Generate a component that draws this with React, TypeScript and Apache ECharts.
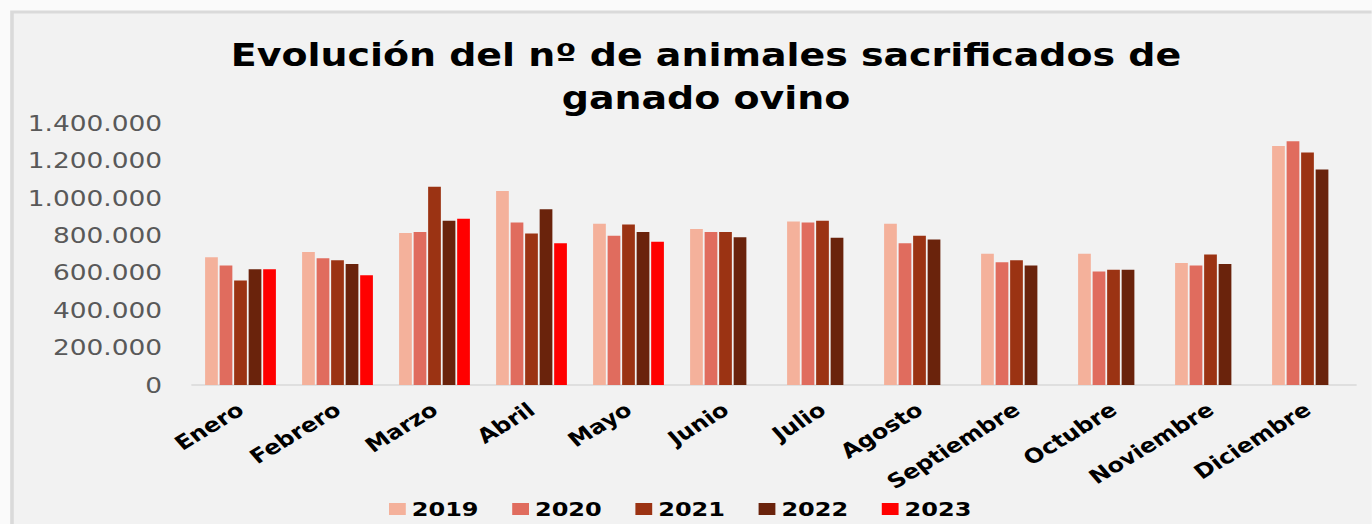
import React, { useEffect, useRef } from "react";
import * as echarts from "echarts";

const months = [
  "Enero", "Febrero", "Marzo", "Abril", "Mayo", "Junio",
  "Julio", "Agosto", "Septiembre", "Octubre", "Noviembre", "Diciembre",
];
const years = ["2019", "2020", "2021", "2022", "2023"];
const v2019 = [682000, 711000, 812000, 1037000, 862000, 834000, 873000, 862000, 702000, 702000, 652000, 1277000];
const v2020 = [638000, 677000, 818000, 868000, 798000, 818000, 868000, 757000, 656000, 606000, 638000, 1302000];
const v2021 = [558000, 666000, 1060000, 809000, 857000, 818000, 878000, 798000, 666000, 616000, 697000, 1242000];
const v2022 = [618000, 647000, 878000, 939000, 818000, 789000, 787000, 777000, 638000, 616000, 647000, 1151000];
const v2023 = [618000, 586000, 889000, 757000, 766000, null, null, null, null, null, null, null];
const colors = ["#F4B19B", "#E06C5E", "#9B3313", "#6A230C", "#FF0000"];
const titleLines = ["Evolución del nº de animales sacrificados de", "ganado ovino"];
const yMax = 1400000;
const yStep = 200000;

const S = 1.2;
const W = 1372;
const H = 524;
const CW = W / S;
const FONT = '"DejaVu Sans", sans-serif';

function fmt(v: number): string {
  return String(v).replace(/\B(?=(\d{3})+(?!\d))/g, ".");
}

export default function App() {
  const ref = useRef<HTMLDivElement>(null);
  useEffect(() => {
    if (!ref.current) return;
    const chart = echarts.init(ref.current, undefined, { renderer: "svg", width: CW, height: H });
    const seriesData = [v2019, v2020, v2021, v2022, v2023];
    chart.setOption({
      animation: false,
      backgroundColor: "#fafafa",
      color: colors,
      graphic: [
        {
          type: "rect",
          z: -10,
          shape: { x: 12 / S, y: 12, width: CW, height: H },
          style: { fill: "#f2f2f2", stroke: "#dadada", lineWidth: 3 },
        },
        {
          type: "text",
          x: 706 / S,
          y: 55,
          style: {
            text: titleLines[0],
            fontFamily: FONT,
            fontWeight: "bold",
            fontSize: 31.6,
            fill: "#000000",
            align: "center",
            verticalAlign: "middle",
          },
        },
        {
          type: "text",
          x: 706 / S,
          y: 98,
          style: {
            text: titleLines[1],
            fontFamily: FONT,
            fontWeight: "bold",
            fontSize: 31.6,
            fill: "#000000",
            align: "center",
            verticalAlign: "middle",
          },
        },
      ],
      legend: {
        data: years,
        top: 499,
        left: 389 / S,
        padding: 0,
        itemWidth: 14,
        itemHeight: 12,
        itemGap: 28,
        icon: "rect",
        textStyle: { fontFamily: FONT, fontWeight: "bold", fontSize: 20, color: "#000000" },
      },
      grid: {
        left: 192 / S,
        right: CW - 1356 / S,
        top: 123,
        bottom: H - 385,
        containLabel: false,
      },
      xAxis: {
        type: "category",
        data: months,
        axisLine: { lineStyle: { color: "#d9d9d9", width: 1.5 } },
        axisTick: { show: false },
        axisLabel: {
          rotate: 36,
          margin: 22,
          interval: 0,
          fontFamily: FONT,
          fontWeight: "bold",
          fontSize: 20,
          color: "#000000",
        },
      },
      yAxis: {
        type: "value",
        min: 0,
        max: yMax,
        interval: yStep,
        splitLine: { show: false },
        axisLine: { show: false },
        axisTick: { show: false },
        axisLabel: {
          margin: 25,
          fontFamily: FONT,
          fontSize: 22,
          color: "#595959",
          formatter: (v: number) => fmt(v),
        },
      },
      series: years.map((y, i) => ({
        name: y,
        type: "bar",
        data: seriesData[i],
        barGap: "14%",
        barCategoryGap: "27%",
        itemStyle: { color: colors[i] },
      })),
    });
    return () => chart.dispose();
  }, []);
  return (
    <div
      style={{
        position: "fixed",
        left: 0,
        top: 0,
        width: W,
        height: H,
        overflow: "hidden",
        background: "#fafafa",
      }}
    >
      <div
        ref={ref}
        style={{ width: CW, height: H, transform: `scaleX(${S})`, transformOrigin: "0 0" }}
      />
    </div>
  );
}
